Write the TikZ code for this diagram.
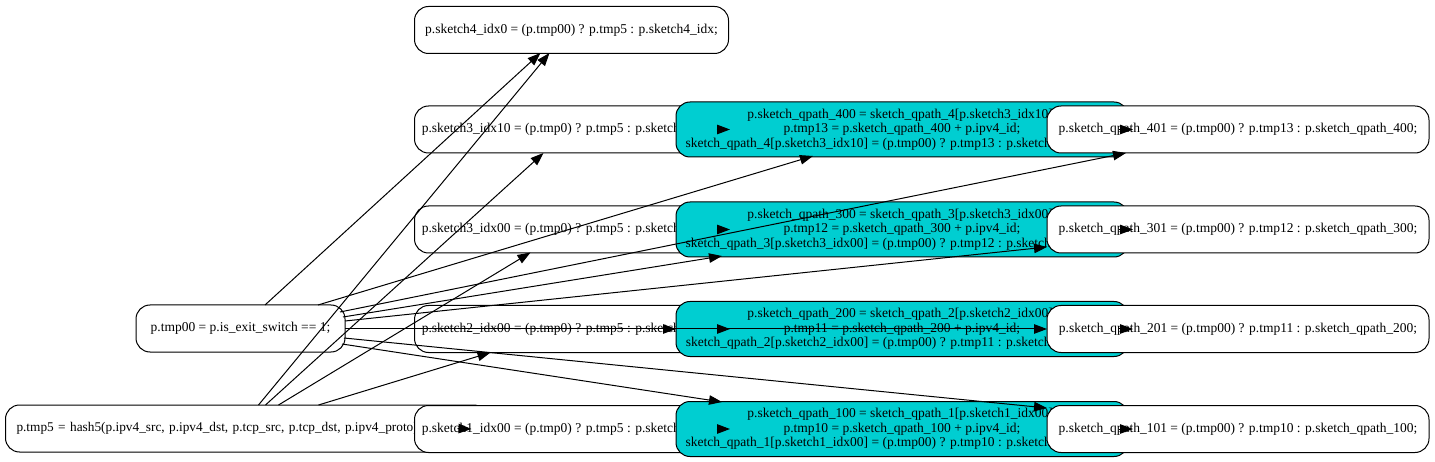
\documentclass[tikz,border=0pt]{standalone}
\usepackage{fontspec}
\setmainfont{Liberation Serif}
\usetikzlibrary{arrows.meta,calc}
\definecolor{cyanfill}{HTML}{00CED1}
\begin{document}
\begin{tikzpicture}[x=1pt,y=-1pt,
  wbox/.style={draw=black,fill=white,rounded corners=14pt,line width=1pt,minimum height=47pt,inner ysep=0pt,align=center,font=\fontsize{13.5pt}{14.3pt}\selectfont},
  sbox/.style={wbox,anchor=west,minimum width=314pt},
  cbox/.style={wbox,fill=cyanfill,minimum height=55pt,minimum width=452pt},
  obox/.style={wbox,minimum width=382pt},
  conn/.style={draw=black,line width=1pt,-{Triangle[length=13pt,width=9.5pt]}}
]
\useasboundingbox (0,0) rectangle (1435,462);
% sketch index nodes
\node[sbox] (s4) at (414,30) {p.sketch4\_idx0 = (p.tmp00) ? p.tmp5 : p.sketch4\_idx;};
\node[sbox] (s3a) at (414,129.5) {p.sketch3\_idx10 = (p.tmp0) ? p.tmp5 : p.sketch3\_idx1;};
\node[sbox] (s3b) at (414,229.5) {p.sketch3\_idx00 = (p.tmp0) ? p.tmp5 : p.sketch3\_idx0;};
\node[sbox] (s2) at (414,329) {p.sketch2\_idx00 = (p.tmp0) ? p.tmp5 : p.sketch2\_idx0;};
% sources
\node[wbox,minimum width=209pt] (t00) at (240.5,328.5) {p.tmp00 = p.is\_exit\_switch == 1;};
\node[wbox,anchor=west,text width=460pt,inner xsep=11pt,align=left,font=\fontsize{13.3pt}{14.3pt}\selectfont] (t5) at (5,428.5) {p.tmp5 = hash5(p.ipv4\_src, p.ipv4\_dst, p.tcp\_src, p.tcp\_dst, p.ipv4\_proto);};
\node[sbox] (s1) at (414,429) {p.sketch1\_idx00 = (p.tmp0) ? p.tmp5 : p.sketch1\_idx0;};
% cyan nodes
\node[cbox] (q400) at (902,129.5) {p.sketch\_qpath\_400 = sketch\_qpath\_4[p.sketch3\_idx10];\\p.tmp13 = p.sketch\_qpath\_400 + p.ipv4\_id;\\sketch\_qpath\_4[p.sketch3\_idx10] = (p.tmp00) ? p.tmp13 : p.sketch\_qpath\_400;};
\node[cbox] (q300) at (902,229.5) {p.sketch\_qpath\_300 = sketch\_qpath\_3[p.sketch3\_idx00];\\p.tmp12 = p.sketch\_qpath\_300 + p.ipv4\_id;\\sketch\_qpath\_3[p.sketch3\_idx00] = (p.tmp00) ? p.tmp12 : p.sketch\_qpath\_300;};
\node[cbox] (q200) at (902,329) {p.sketch\_qpath\_200 = sketch\_qpath\_2[p.sketch2\_idx00];\\p.tmp11 = p.sketch\_qpath\_200 + p.ipv4\_id;\\sketch\_qpath\_2[p.sketch2\_idx00] = (p.tmp00) ? p.tmp11 : p.sketch\_qpath\_200;};
\node[cbox] (q100) at (902,429) {p.sketch\_qpath\_100 = sketch\_qpath\_1[p.sketch1\_idx00];\\p.tmp10 = p.sketch\_qpath\_100 + p.ipv4\_id;\\sketch\_qpath\_1[p.sketch1\_idx00] = (p.tmp00) ? p.tmp10 : p.sketch\_qpath\_100;};
% output nodes
\node[obox] (q401) at (1238,129.5) {p.sketch\_qpath\_401 = (p.tmp00) ? p.tmp13 : p.sketch\_qpath\_400;};
\node[obox] (q301) at (1238,229.5) {p.sketch\_qpath\_301 = (p.tmp00) ? p.tmp12 : p.sketch\_qpath\_300;};
\node[obox] (q201) at (1238,329) {p.sketch\_qpath\_201 = (p.tmp00) ? p.tmp11 : p.sketch\_qpath\_200;};
\node[obox] (q101) at (1238,429) {p.sketch\_qpath\_101 = (p.tmp00) ? p.tmp10 : p.sketch\_qpath\_100;};
% edges from tmp00
\draw[conn] ($(t00.center)+(24.5,-23.5)$) -- ($(s4.center)+(-31,23)$);
\draw[conn] ($(t00.center)+(77.5,-23.5)$) -- ($(q400.center)+(-89,26.5)$);
\draw[conn] ($(t00.center)+(99.5,-16.5)$) -- ($(q401.center)+(-112,23.5)$);
\draw[conn] ($(t00.center)+(102.5,-11.5)$) -- ($(q300.center)+(-180,26.5)$);
\draw[conn] ($(t00.center)+(104.5,-7.5)$) -- ($(q301.center)+(-191,17.5)$);
\draw[conn] ($(t00.center)+(104.5,0.5)$) -- ($(q200.center)+(-226,0)$);
\draw[conn] ($(t00.center)+(104.5,0.5)$) -- ($(q201.center)+(-191,0)$);
\draw[conn] ($(t00.center)+(103.5,9.5)$) -- ($(q101.center)+(-191,-21)$);
\draw[conn] ($(t00.center)+(101.5,15.5)$) -- ($(q100.center)+(-180,-27)$);
% edges from tmp5 (t5 box spans x=5..487, centre x=246)
\draw[conn] ($(t5.center)+(12,-23.5)$) -- ($(s4.center)+(-22,23)$);
\draw[conn] ($(t5.center)+(19,-23.5)$) -- ($(s3a.center)+(-28,23.5)$);
\draw[conn] ($(t5.center)+(32,-23.5)$) -- ($(s3b.center)+(-41,23)$);
\draw[conn] ($(t5.center)+(72,-23.5)$) -- ($(s2.center)+(-81,23.5)$);
\draw[conn] ($(t5.center)+(211,0)$) -- ($(s1.center)+(-100,0)$);
% short edges sketch -> qpath
\draw[conn] ($(s3a.center)+(145,0)$) -- ($(q400.center)+(-172,0)$);
\draw[conn] ($(s3b.center)+(145,0)$) -- ($(q300.center)+(-172,0)$);
\draw[conn] ($(s2.center)+(145,0)$) -- ($(q200.center)+(-172,0)$);
\draw[conn] ($(s1.center)+(145,0)$) -- ($(q100.center)+(-172,0)$);
% short edges qpath -> qpath out
\draw[conn] ($(q400.center)+(217,0)$) -- ($(q401.center)+(-105,0)$);
\draw[conn] ($(q300.center)+(217,0)$) -- ($(q301.center)+(-105,0)$);
\draw[conn] ($(q200.center)+(217,0)$) -- ($(q201.center)+(-105,0)$);
\draw[conn] ($(q100.center)+(217,0)$) -- ($(q101.center)+(-105,0)$);
\end{tikzpicture}
\end{document}
